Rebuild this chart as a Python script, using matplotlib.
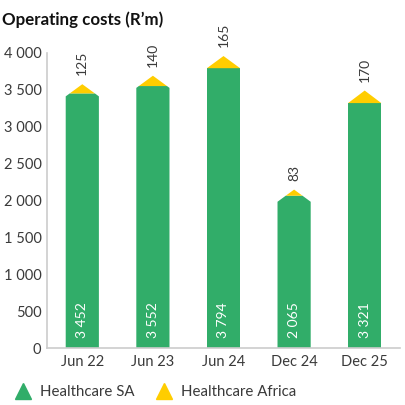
import matplotlib
matplotlib.use("Agg")
import matplotlib.pyplot as plt
from matplotlib.lines import Line2D
import numpy as np

categories = ["Jun 22", "Jun 23", "Jun 24", "Dec 24", "Dec 25"]
healthcare_sa = [3452, 3552, 3794, 2065, 3321]
healthcare_africa = [125, 140, 165, 83, 170]
sa_labels = ["3 452", "3 552", "3 794", "2 065", "3 321"]
africa_labels = ["125", "140", "165", "83", "170"]
yticks = [0, 500, 1000, 1500, 2000, 2500, 3000, 3500, 4000]
ytick_labels = ["0", "500", "1 000", "1 500", "2 000", "2 500", "3 000", "3 500", "4 000"]

GREEN = "#31AD69"
YELLOW = "#FFCD00"
TEXT = "#3a3a3a"
ROOF = 165.0   # height of the triangular cap (data units)
W = 0.47

plt.rcParams["font.family"] = ["Lato", "DejaVu Sans"]

fig = plt.figure(figsize=(4.06, 4.05), dpi=100)
ax = fig.add_axes([47/406, 1 - 348/405, 353/406, 295/405])

x = np.arange(len(categories))
for i, (sa, af) in enumerate(zip(healthcare_sa, healthcare_africa)):
    total = sa + af
    base = total - max(ROOF, af)
    h = total - base
    xl, xr = i - W/2, i + W/2
    frac = (total - sa) / h
    hw = W/2 * frac
    green_poly = [(xl, 0), (xr, 0), (xr, base), (i + hw, sa), (i - hw, sa), (xl, base)]
    ax.fill([p[0] for p in green_poly], [p[1] for p in green_poly], color=GREEN, lw=0, zorder=2)
    yel_poly = [(i - hw, sa), (i + hw, sa), (i, total)]
    ax.fill([p[0] for p in yel_poly], [p[1] for p in yel_poly], color=YELLOW, lw=0, zorder=2)
    ax.annotate(sa_labels[i], xy=(i, 0), xytext=(0, 7), textcoords="offset points",
                rotation=90, ha="center", va="bottom", color="white", fontsize=10)
    ax.annotate(africa_labels[i], xy=(i, total), xytext=(0, 6.5), textcoords="offset points",
                rotation=90, ha="center", va="bottom", color=TEXT, fontsize=10)

ax.set_xlim(-0.5, len(categories) - 0.5)
ax.set_ylim(0, 4000)
ax.set_yticks(yticks)
ax.set_yticklabels(ytick_labels)
ax.set_xticks(x)
ax.set_xticklabels(categories)
ax.tick_params(length=0, labelsize=10.5, colors=TEXT)
ax.tick_params(axis="y", pad=4)
ax.tick_params(axis="x", pad=5)
for s in ["top", "right"]:
    ax.spines[s].set_visible(False)
for s in ["left", "bottom"]:
    ax.spines[s].set_color("#cccccc")
    ax.spines[s].set_linewidth(1.2)

fig.text(0.005, 1 - 20/405, "Operating costs (R\u2019m)", fontsize=12.2, fontweight="bold",
         color="#111111", va="center", ha="left")

handles = [Line2D([], [], marker="^", color=GREEN, ls="", markersize=12),
           Line2D([], [], marker="^", color=YELLOW, ls="", markersize=12)]
fig.legend(handles, ["Healthcare SA", "Healthcare Africa"], loc="center left",
           bbox_to_anchor=(-0.005, 1 - 392/405), ncol=2, frameon=False,
           fontsize=10.8, labelcolor=TEXT, handletextpad=0.3, columnspacing=1.2,
           handlelength=1.6)

fig.savefig("out.png", dpi=100)
